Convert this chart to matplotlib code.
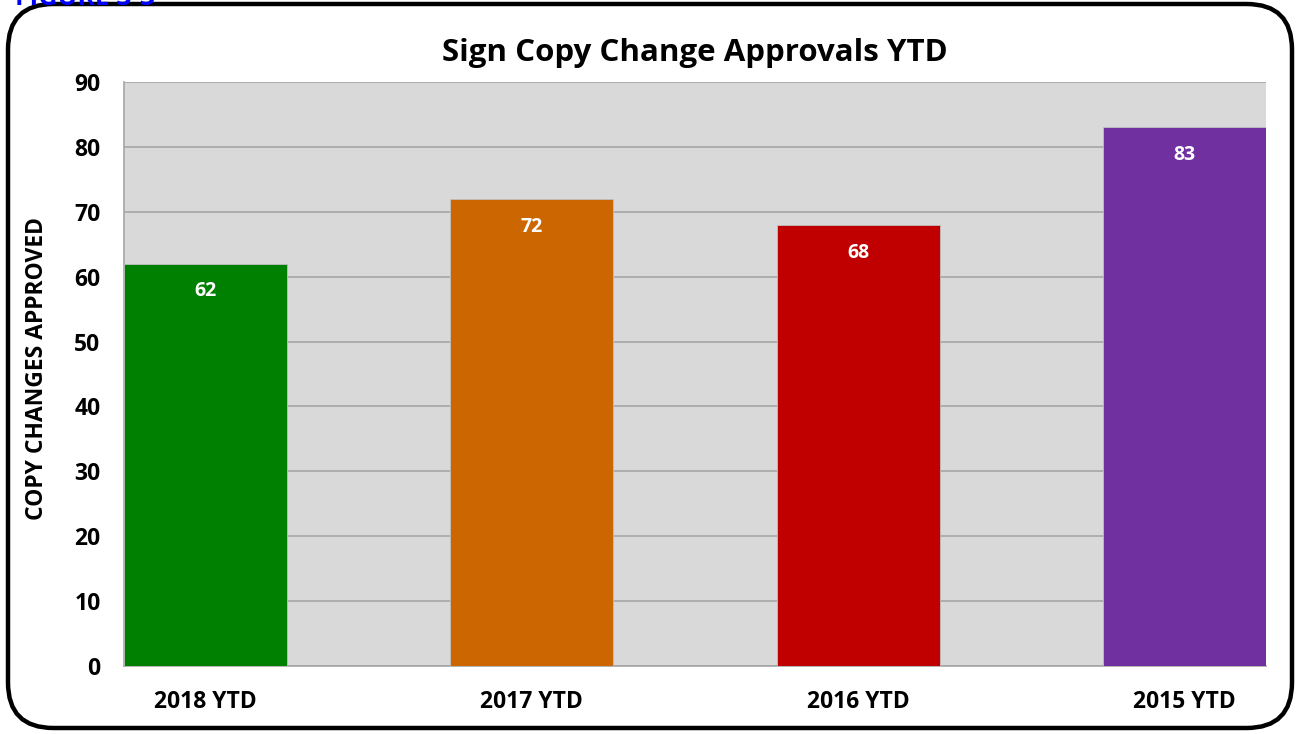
import matplotlib.pyplot as plt
from matplotlib.patches import FancyBboxPatch

# Chart data
categories = ["2018 YTD", "2017 YTD", "2016 YTD", "2015 YTD"]
approvals = [62, 72, 68, 83]
bar_colors = ["#008000", "#cc6600", "#c00000", "#7030a0"]
y_ticks = [0, 10, 20, 30, 40, 50, 60, 70, 80, 90]

plt.rcParams['font.family'] = ['Open Sans', 'DejaVu Sans']
plt.rcParams['font.weight'] = 'bold'

fig = plt.figure(figsize=(12.99, 7.34), dpi=100)
ax = fig.add_axes([0.0955, 0.0926, 0.8791, 0.7957])

# Rounded outer frame
frame = FancyBboxPatch((8 / 1299, 6 / 734), 1284 / 1299, 724 / 734,
                       boxstyle="round,pad=0,rounding_size=0.035",
                       transform=fig.transFigure, fill=False,
                       edgecolor="black", linewidth=3.2, zorder=0,
                       mutation_aspect=1299 / 734)
fig.patches.append(frame)

# Partially cut-off figure caption at the very top
fig.text(15 / 1299, 1 - 5 / 734, "FIGURE 3-3", color="#0000ff",
         fontsize=19, fontweight="bold", ha="left", va="baseline")

# Bars
x = range(len(categories))
bars = ax.bar(x, approvals, width=0.5, color=bar_colors,
              edgecolor="#bfbfbf", linewidth=0.6, zorder=3)

# Value labels inside the top of each bar
for rect, val in zip(bars, approvals):
    ax.annotate(str(val), (rect.get_x() + rect.get_width() / 2, val),
                xytext=(0, -20), textcoords="offset points",
                ha="center", va="center", color="white",
                fontsize=14, fontweight="bold", zorder=4)

ax.set_facecolor("#d9d9d9")
ax.set_xlim(-0.25, 3.25)
ax.set_ylim(0, 90)
ax.set_yticks(y_ticks)
ax.set_xticks(list(x))
ax.set_xticklabels(categories)
ax.grid(axis="y", color="#a6a6a6", linewidth=1.2, zorder=1)
ax.set_axisbelow(True)

for side in ["top", "right"]:
    ax.spines[side].set_visible(False)
for side in ["left", "bottom"]:
    ax.spines[side].set_color("#a6a6a6")
    ax.spines[side].set_linewidth(1.2)

ax.tick_params(axis="both", length=0, labelsize=16.5)
ax.tick_params(axis="y", pad=17)
ax.tick_params(axis="x", pad=17)

ax.set_title("Sign Copy Change Approvals YTD", fontsize=22.5,
             fontweight="bold", pad=15)
ax.set_ylabel("COPY CHANGES APPROVED", fontsize=16.5, fontweight="bold")
ax.yaxis.set_label_coords(-0.066, 0.51)

plt.savefig("out.png", dpi=100)
